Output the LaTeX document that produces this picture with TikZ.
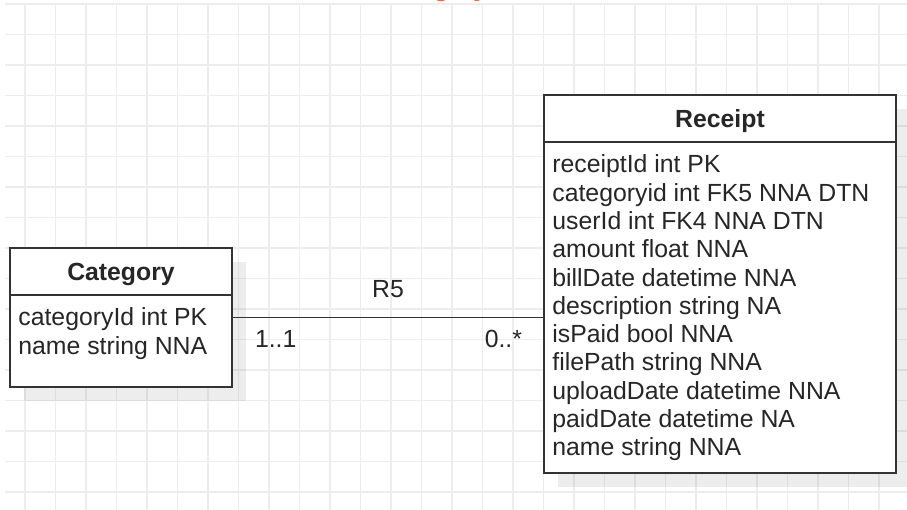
\documentclass[tikz,border=0pt]{standalone}
\usepackage{fontspec}
\setmainfont{Liberation Sans}
\usetikzlibrary{arrows.meta,calc,positioning,shadows}

\begin{document}
\begin{tikzpicture}[x=1pt,y=-1pt,
  gridline/.style={line width=1.5pt,draw=black!7},
  classbox/.style={draw=black!80,line width=1.6pt,fill=white,inner sep=0pt,
    drop shadow={shadow xshift=14pt,shadow yshift=-14pt,opacity=0.07,fill=black}},
  classline/.style={draw=black!80,line width=1.6pt},
  classtitle/.style={anchor=base,inner sep=0pt,text=black!85,font=\fontsize{24.8pt}{28.3pt}\selectfont\bfseries},
  attrlist/.style={anchor=north west,inner sep=0pt,align=left,text=black!85,font=\fontsize{24.8pt}{28.3pt}\selectfont},
  connlabel/.style={inner sep=0pt,text=black!85,font=\fontsize{24.8pt}{28.3pt}\selectfont},
  pagetitle/.style={anchor=base,inner sep=0pt,text={rgb,255:red,255;green,102;blue,51},font=\fontsize{24.8pt}{28.3pt}\selectfont\bfseries}]
\useasboundingbox[fill=white] (0,0) rectangle (907,510);
\foreach \x in {0,...,28} \draw[gridline] ({25+30.5*\x},4) -- ({25+30.5*\x},510);
\foreach \y in {0,...,16} \draw[gridline] (5,{4+30.5*\y}) -- (907,{4+30.5*\y});
\node[pagetitle] (diagramtitle) at (433.5,-3.2) {Category};
\node[classbox,minimum width=222pt,minimum height=139pt] (category) at (121,317.5) {};
\node[classbox,minimum width=352pt,minimum height=378pt] (receipt) at (720,284) {};
\draw[classline] ([yshift=-48pt]category.north west) -- ([yshift=-48pt]category.north east);
\draw[classline] ([yshift=-48pt]receipt.north west) -- ([yshift=-48pt]receipt.north east);
\node[classtitle] (categorytitle) at ([yshift=-33.7pt]category.north) {Category};
\node[classtitle] (receipttitle) at ([yshift=-33pt]receipt.north) {Receipt};
\node[attrlist] (categoryattrs) at ([shift={(9pt,-60.5pt)}]category.north west) {categoryId int PK\\name string NNA};
\node[attrlist] (receiptattrs) at ([shift={(9pt,-60.5pt)}]receipt.north west) {receiptId int PK\\categoryid int FK5 NNA DTN\\userId int FK4 NNA DTN\\amount float NNA\\billDate datetime NNA\\description string NA\\isPaid bool NNA\\filePath string NNA\\uploadDate datetime NNA\\paidDate datetime NA\\name string NNA};
\coordinate (receiptend) at (category.east -| receipt.west);
\draw[classline] (category.east) -- (receiptend);
\node[connlabel,anchor=base,yshift=20pt] (relname) at ($(category.east)!0.5!(receiptend)$) {R5};
\node[connlabel,anchor=base west] (categorymult) at ([shift={(22pt,-30.5pt)}]category.east) {1..1};
\node[connlabel,anchor=base east] (receiptmult) at ([shift={(-21pt,-30.5pt)}]receiptend) {0..*};
\end{tikzpicture}
\end{document}
